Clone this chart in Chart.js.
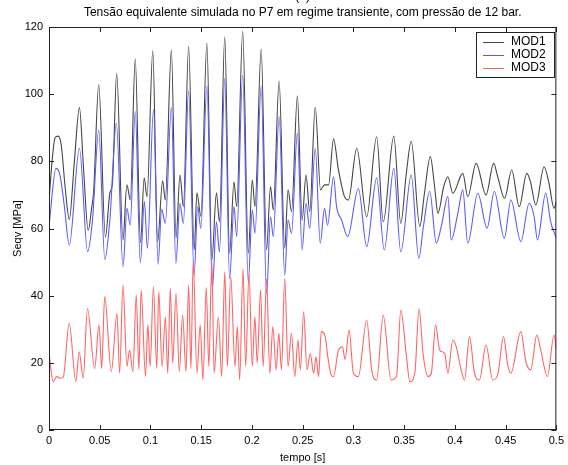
<!DOCTYPE html>
<html lang="pt">
<head>
<meta charset="UTF-8">
<title>Tensão equivalente no P7</title>
<script src="https://cdn.jsdelivr.net/npm/chart.js"></script>
<style>
  body { margin: 0; background: #fff; }
  #wrap { width: 568px; height: 465px; }
</style>
</head>
<body>
<div id="wrap"><canvas id="stressChart" width="568" height="465"></canvas></div>
<script>
// tempo [s] / Seqv [MPa] (peaks, troughs, shoulders)
const tempoMod1 = [0, 0.003, 0.006, 0.009, 0.012, 0.016, 0.020, 0.025, 0.030, 0.034, 0.0386, 0.042, 0.044, 0.049,
  0.0556, 0.060, 0.0625, 0.0667, 0.0729, 0.0768, 0.0801, 0.085, 0.0902, 0.0938, 0.0966, 0.1023, 0.107, 0.112,
  0.1146, 0.1206, 0.1252, 0.1291, 0.1324, 0.1376, 0.1431, 0.1458, 0.1497, 0.1556, 0.1605, 0.165, 0.168, 0.1732,
  0.178, 0.1823, 0.185, 0.1909, 0.1964, 0.2003, 0.203, 0.2091, 0.2144, 0.2183, 0.221, 0.2268, 0.2323, 0.2356,
  0.239, 0.2448, 0.2494, 0.2533, 0.2569, 0.2624, 0.2676, 0.2715, 0.2755, 0.2804, 0.2853, 0.2912, 0.2951, 0.3033,
  0.3131, 0.3229, 0.3294, 0.3398, 0.3467, 0.352, 0.357, 0.3654, 0.370, 0.3758, 0.380, 0.3833, 0.389, 0.3931,
  0.3980, 0.4078, 0.4127, 0.4209, 0.4307, 0.4382, 0.4422, 0.4490, 0.4560, 0.4634, 0.4709, 0.4745, 0.4797, 0.4879,
  0.4928, 0.4977, 0.5];
const mod1 = [68, 80, 87, 87.5, 85, 72, 62.7, 80, 96, 78, 59.4, 66, 71, 102.9,
  57.4, 70.6, 73.4, 106.2, 56.6, 73, 68.5, 110.5, 55.8, 75.1, 69.5, 112.9, 56.1, 74.2,
  68.5, 113.2, 57.1, 75.9, 66.5, 114.2, 53.6, 70.6, 63.6, 115.2, 50.6, 70.6, 62, 117.1,
  52.6, 73.9, 66.5, 118.8, 52.6, 74.4, 66.5, 113.4, 53.6, 72.5, 65.5, 103.9, 54.1, 71.5,
  65, 99.5, 62.5, 75.9, 65, 96.1, 71.5, 73, 73, 86.6, 77.4, 69.5, 68.5, 83.9,
  63.5, 87.3, 62, 87.5, 61.5, 76, 86, 60.6, 70.5, 81.4, 72.5, 64.5, 72.5, 75.4,
  70.5, 76.4, 69.5, 79.4, 70, 79.4, 75.4, 69, 77.4, 66.5, 76.4, 73.9, 67, 78.4,
  73.4, 66, 68];

const tempoMod2 = [0, 0.0069, 0.0108, 0.015, 0.020, 0.030, 0.038, 0.043, 0.049, 0.055, 0.060, 0.0664, 0.073,
  0.0768, 0.080, 0.085, 0.090, 0.094, 0.097, 0.103, 0.1075, 0.111, 0.1146, 0.1206, 0.125, 0.129, 0.1324, 0.1376,
  0.143, 0.1465, 0.1497, 0.1556, 0.161, 0.165, 0.168, 0.1732, 0.178, 0.1823, 0.185, 0.1909, 0.1964, 0.2003, 0.203,
  0.2091, 0.2144, 0.2183, 0.221, 0.2268, 0.2323, 0.2356, 0.239, 0.2448, 0.2494, 0.2533, 0.2569, 0.2624, 0.2673,
  0.2715, 0.2745, 0.2804, 0.2834, 0.2884, 0.2943, 0.3049, 0.3131, 0.3229, 0.3304, 0.3398, 0.3467, 0.357, 0.3644,
  0.3690, 0.3752, 0.3817, 0.3866, 0.3931, 0.3964, 0.4029, 0.4078, 0.4127, 0.4226, 0.4317, 0.4389, 0.4487, 0.4552,
  0.4650, 0.4732, 0.4781, 0.4814, 0.4895, 0.4944, 0.5];
const mod2 = [60.6, 77.9, 75.9, 67, 55.1, 83.9, 53.1, 63, 89.3, 50.8, 62.7, 91.3, 48.6,
  66, 61, 94.8, 49.8, 68, 54.1, 95.5, 49.4, 65.7, 61.5, 96.1, 49.6, 67.5, 61.5, 101,
  46, 66.5, 60, 102.4, 42, 62, 53, 104.7, 45, 66.5, 57.6, 105.7, 44, 65.5, 58.6,
  102.4, 40.5, 63.5, 57.6, 93.3, 46, 62.5, 58.6, 88.4, 53.6, 67.5, 60, 83.9, 55.6,
  66, 61, 75.4, 66.5, 62.5, 57.6, 71.9, 54.6, 75, 53.6, 77.9, 53, 75.9, 51.1,
  60.6, 71, 55.6, 60.6, 69.5, 56.6, 64.5, 71.5, 55.6, 70.5, 60.1, 71, 57.1, 68.5,
  56.1, 67.5, 63.5, 56.6, 70.5, 62, 57.1];

const tempoMod3 = [0, 0.0042, 0.0075, 0.011, 0.014, 0.0199, 0.0265, 0.0297, 0.0337, 0.0379, 0.045, 0.0493, 0.0519,
  0.0549, 0.0614, 0.0670, 0.0696, 0.0729, 0.0768, 0.0794, 0.0827, 0.0860, 0.0886, 0.0908, 0.0951, 0.0974, 0.0997,
  0.1029, 0.1062, 0.1082, 0.1114, 0.1147, 0.1170, 0.1196, 0.1219, 0.1252, 0.1284, 0.1317, 0.1350, 0.1376, 0.1399,
  0.1421, 0.1458, 0.1490, 0.1517, 0.155, 0.1575, 0.1605, 0.1627, 0.1669, 0.1702, 0.1732, 0.1758, 0.1791, 0.1833,
  0.1856, 0.1879, 0.1912, 0.1938, 0.1971, 0.2003, 0.2029, 0.2052, 0.2085, 0.2111, 0.2144, 0.2176, 0.2206, 0.2239,
  0.2265, 0.2291, 0.2323, 0.2356, 0.2389, 0.2422, 0.2454, 0.2477, 0.2510, 0.2542, 0.2575, 0.2608, 0.2631, 0.2657,
  0.2683, 0.2722, 0.2748, 0.2781, 0.2804, 0.2853, 0.2892, 0.2918, 0.2957, 0.3000, 0.3049, 0.3131, 0.3180, 0.3229,
  0.3294, 0.3370, 0.3425, 0.3467, 0.3523, 0.3556, 0.3605, 0.3647, 0.3686, 0.3735, 0.3768, 0.3810, 0.3850, 0.3899,
  0.3931, 0.3980, 0.4013, 0.4062, 0.4095, 0.4144, 0.4193, 0.4242, 0.4307, 0.4373, 0.4422, 0.4480, 0.4520, 0.4552,
  0.4650, 0.4699, 0.4748, 0.4807, 0.4846, 0.4912, 0.4977, 0.5];
const mod3 = [22.8, 14.4, 15.9, 15.4, 15.7, 31.8, 14.4, 23.3, 15.4, 36.2, 18.3, 31.3, 18.3,
  39.7, 17.4, 34.7, 16.9, 43.2, 19, 23.8, 17.4, 40.2, 17.9, 41.7, 15.9, 31.3, 18.9,
  42.7, 18.3, 41.2, 18.9, 33.7, 16.9, 42.2, 19.9, 40.7, 17.4, 34.2, 17.4, 43.2, 18.3,
  50.6, 16.9, 31.3, 14.9, 42.5, 18.9, 50.6, 16.9, 33.7, 15.9, 47.1, 18.9, 45.7, 18.9,
  30.8, 14.9, 48.1, 18.9, 46.6, 18.9, 33.7, 19.9, 41.7, 18.9, 45.2, 16.9, 30.8, 17.9,
  28.8, 17.9, 45.2, 18.9, 28.8, 15.9, 26.8, 17.9, 35.2, 17.9, 22.8, 16.9, 21.8, 15.9,
  29.3, 27.8, 21.8, 16.4, 15.9, 23.8, 24.8, 21, 29.8, 16.9, 15.9, 32.7, 17.9, 14.9,
  34.2, 14.9, 15.9, 35.7, 21.8, 14.4, 16.9, 36.2, 22.8, 15.9, 16.9, 31.3, 23.8, 22.8,
  16.9, 26.8, 24.8, 17.9, 14.9, 27.8, 16.9, 14.9, 25.3, 14.9, 16.4, 27.8, 19.4, 16.9,
  29.3, 20.4, 17.9, 28.3, 23.8, 15.9, 28.3, 23.8];

const seriesNames = ['MOD1', 'MOD2', 'MOD3'];
const xTicks = [0, 0.05, 0.1, 0.15, 0.2, 0.25, 0.3, 0.35, 0.4, 0.45, 0.5];
const yTicks = [0, 20, 40, 60, 80, 100, 120];

const colors = ['#454545', '#5a5aff', '#ff6464'];
const FONT = '"Liberation Sans", Arial, sans-serif';

function toPoints(ts, vs) {
  return ts.map((t, i) => ({ x: t, y: vs[i] }));
}

// box, inward ticks, title and legend in the matlab look
const matlabFrame = {
  id: 'matlabFrame',
  afterDatasetsDraw(chart) {
    const { ctx, chartArea: a, scales: { x, y } } = chart;
    ctx.save();
    ctx.strokeStyle = '#222';
    ctx.lineWidth = 1;
    ctx.strokeRect(a.left + 0.5, a.top + 0.5, a.right - a.left - 1, a.bottom - a.top - 1);
    ctx.beginPath();
    xTicks.forEach(v => {
      const px = Math.round(x.getPixelForValue(v)) + 0.5;
      ctx.moveTo(px, a.bottom); ctx.lineTo(px, a.bottom - 5);
      ctx.moveTo(px, a.top); ctx.lineTo(px, a.top + 5);
    });
    yTicks.forEach(v => {
      const py = Math.round(y.getPixelForValue(v)) + 0.5;
      ctx.moveTo(a.left, py); ctx.lineTo(a.left + 5, py);
      ctx.moveTo(a.right, py); ctx.lineTo(a.right - 5, py);
    });
    ctx.stroke();

    // title
    ctx.fillStyle = '#000';
    ctx.textAlign = 'center';
    ctx.textBaseline = 'middle';
    ctx.font = '12px ' + FONT;
    ctx.fillText('Tensão equivalente simulada no P7 em regime transiente, com pressão de 12 bar.', (a.left + a.right) / 2, 13);
    ctx.textBaseline = 'alphabetic';
    ctx.fillText('(b)', (a.left + a.right) / 2, 0);

    // legend
    const lx = 476, ly = 32, lw = 78, lh = 45;
    ctx.fillStyle = '#fff';
    ctx.fillRect(lx, ly, lw, lh);
    ctx.strokeStyle = '#222';
    ctx.strokeRect(lx + 0.5, ly + 0.5, lw, lh);
    ctx.textAlign = 'left';
    ctx.textBaseline = 'middle';
    ctx.font = '12px ' + FONT;
    seriesNames.forEach((name, i) => {
      const ry = ly + 10 + i * 13;
      ctx.strokeStyle = colors[i];
      ctx.beginPath();
      ctx.moveTo(lx + 7, ry + 0.5); ctx.lineTo(lx + 28, ry + 0.5);
      ctx.stroke();
      ctx.fillStyle = '#000';
      ctx.fillText(name, lx + 35, ry);
    });
    ctx.restore();
  }
};

new Chart(document.getElementById('stressChart'), {
  type: 'line',
  data: {
    datasets: [
      { label: seriesNames[0], data: toPoints(tempoMod1, mod1), order: 3 },
      { label: seriesNames[1], data: toPoints(tempoMod2, mod2), order: 2 },
      { label: seriesNames[2], data: toPoints(tempoMod3, mod3), order: 1 }
    ].map((d, i) => Object.assign(d, {
      borderColor: colors[i],
      borderWidth: 1.1,
      pointRadius: 0,
      cubicInterpolationMode: 'monotone',
      fill: false
    }))
  },
  options: {
    responsive: false,
    animation: false,
    layout: { padding: { top: 27, right: 11, left: 0, bottom: 0 } },
    plugins: { legend: { display: false }, tooltip: { enabled: false }, title: { display: false } },
    scales: {
      x: {
        type: 'linear',
        min: 0, max: 0.5,
        afterBuildTicks: s => { s.ticks = xTicks.map(v => ({ value: v })); },
        afterFit: s => { s.height = 35; },
        grid: { display: false, drawTicks: false },
        border: { display: false },
        ticks: { color: '#000', padding: 4, maxRotation: 0, font: { family: FONT, size: 11 },
          callback: v => String(+v.toFixed(2)) },
        title: { display: true, text: 'tempo [s]', color: '#000', font: { family: FONT, size: 11 }, padding: { top: 6, bottom: 0 } }
      },
      y: {
        min: 0, max: 120,
        afterBuildTicks: s => { s.ticks = yTicks.map(v => ({ value: v })); },
        afterFit: s => { s.width = 49; },
        grid: { display: false, drawTicks: false },
        border: { display: false },
        ticks: { color: '#000', padding: 6, font: { family: FONT, size: 11 } },
        title: { display: true, text: 'Seqv [MPa]', color: '#000', font: { family: FONT, size: 11 }, padding: { top: 11, bottom: 0 } }
      }
    }
  },
  plugins: [matlabFrame]
});
</script>
</body>
</html>
